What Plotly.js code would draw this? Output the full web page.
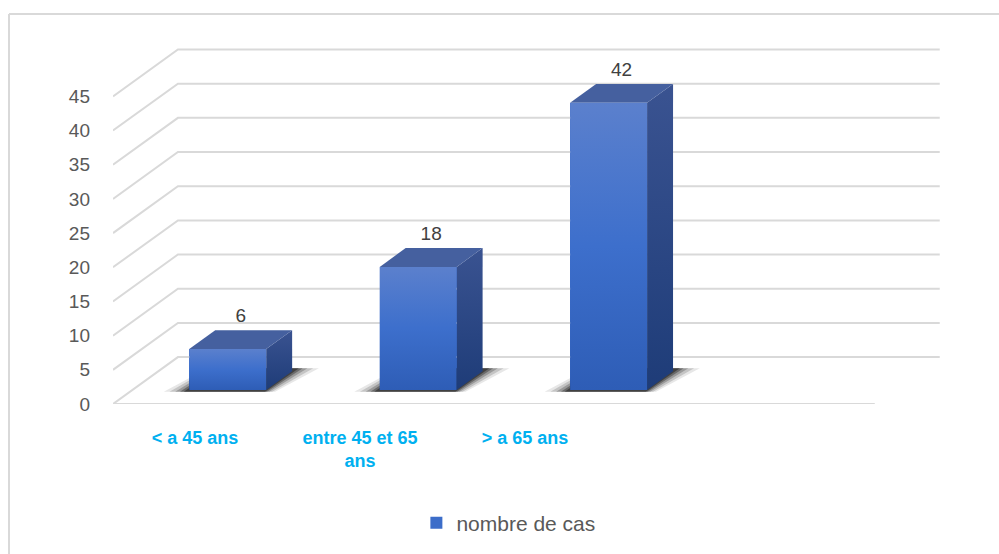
<!DOCTYPE html>
<html>
<head>
<meta charset="utf-8">
<script src="https://cdn.plot.ly/plotly-3.0.1.min.js"></script>
<style>html,body{margin:0;padding:0;background:#fff;}#chart{width:999px;height:554px;}</style>
</head>
<body>
<div id="chart"></div>
<script>
// ---- data ----
const categories = ["< a 45 ans", "entre 45 et 65<br>ans", "> a 65 ans"];
const values = [6, 18, 42];
const seriesName = "nombre de cas";
const yTicks = [0, 5, 10, 15, 20, 25, 30, 35, 40, 45];

// ---- 3D projection settings (in axis units) ----
const nSlots = 4;          // category slots on the floor
const DDX = 0.341;         // depth offset along x (slots)
const DDY = 6.86;          // depth offset along y (value units)
const HALFW = 0.202;       // half bar width (slots)
const F0 = 0.3, F1 = 0.7;  // bar front/back depth fractions
const P = (x, v, d) => [x + d * DDX, v + d * DDY];

const traces = [];

// grid: slanted side lines + back wall lines + front floor edge
let gx = [], gy = [];
yTicks.forEach(v => {
  const a = P(0, v, 0), b = P(0, v, 1), c = P(nSlots, v, 1);
  gx.push(a[0], b[0], c[0], null); gy.push(a[1], b[1], c[1], null);
});
{ const a = P(0, 0, 0), b = P(nSlots, 0, 0); gx.push(a[0], b[0], null); gy.push(a[1], b[1], null); }
traces.push({type:'scatter', mode:'lines', x:gx, y:gy, line:{color:'#d9d9d9', width:2},
  hoverinfo:'skip', showlegend:false, cliponaxis:false});

// shadows (layered soft)
const shadowLayers = [[0.12, 0.10], [0.09, 0.16], [0.06, 0.24], [0.035, 0.34], [0.015, 0.45]];
values.forEach((v, i) => {
  const c = i + 0.5;
  shadowLayers.forEach(([e, op]) => {
    const pts = [P(c - HALFW - e, 0, F0 - 0.04), P(c + HALFW + e * 0.5, 0, F0 - 0.04),
                 P(c + HALFW + e, 0, F1 + 0.06), P(c - HALFW - e * 0.5, 0, F1 + 0.06)];
    traces.push({type:'scatter', mode:'lines', fill:'toself',
      x: pts.map(p => p[0]).concat([pts[0][0]]), y: pts.map(p => p[1]).concat([pts[0][1]]),
      line:{width:0, color:'rgba(0,0,0,0)'}, fillcolor:'rgba(15,15,15,' + op + ')',
      hoverinfo:'skip', showlegend:false});
  });
});

// front faces as real bars (legend item)
traces.push({type:'bar', name:seriesName,
  x: values.map((v, i) => i + 0.5 + F0 * DDX), y: values, base: values.map(() => F0 * DDY),
  width: 2 * HALFW, marker:{color:'#3c6dc9', line:{width:0}}, hoverinfo:'skip', showlegend:true});

values.forEach((v, i) => {
  const c = i + 0.5;
  // side face
  const s = [P(c + HALFW, 0, F0), P(c + HALFW, 0, F1), P(c + HALFW, v, F1), P(c + HALFW, v, F0)];
  traces.push({type:'scatter', mode:'lines', fill:'toself',
    x: s.map(p => p[0]).concat([s[0][0]]), y: s.map(p => p[1]).concat([s[0][1]]),
    line:{width:0, color:'rgba(0,0,0,0)'}, fillcolor:'#2a4a8a',
    fillgradient:{type:'vertical', colorscale:[[0,'#1e3c78'],[1,'#3a5391']]},
    hoverinfo:'skip', showlegend:false});
  // top face
  const t = [P(c - HALFW, v, F0), P(c + HALFW, v, F0), P(c + HALFW, v, F1), P(c - HALFW, v, F1)];
  traces.push({type:'scatter', mode:'lines', fill:'toself',
    x: t.map(p => p[0]).concat([t[0][0]]), y: t.map(p => p[1]).concat([t[0][1]]),
    line:{width:0, color:'rgba(0,0,0,0)'}, fillcolor:'#45609f',
    hoverinfo:'skip', showlegend:false});
  // front face gradient overlay
  const f = [P(c - HALFW, 0, F0), P(c + HALFW, 0, F0), P(c + HALFW, v, F0), P(c - HALFW, v, F0)];
  traces.push({type:'scatter', mode:'lines', fill:'toself',
    x: f.map(p => p[0]).concat([f[0][0]]), y: f.map(p => p[1]).concat([f[0][1]]),
    line:{width:0, color:'rgba(0,0,0,0)'}, fillcolor:'#3c6dc9',
    fillgradient:{type:'vertical', colorscale:[[0,'#2e5db6'],[0.5,'#3d6fcc'],[1,'#5b80cd']]},
    hoverinfo:'skip', showlegend:false});
});

// value labels
traces.push({type:'scatter', mode:'text',
  x: values.map((v, i) => P(i + 0.5, v, 0.5)[0]), y: values.map(v => P(0, v, 0.78)[1]),
  text: values.map(String), textposition:'top center',
  textfont:{family:'Liberation Sans, Arial, sans-serif', size:19, color:'#404040'},
  hoverinfo:'skip', showlegend:false, cliponaxis:false});

// category label carrier on xaxis2
traces.push({type:'scatter', mode:'markers', xaxis:'x2', yaxis:'y',
  x: categories.map((c, i) => i), y: categories.map(() => null),
  hoverinfo:'skip', showlegend:false});

const layout = {
  width: 999, height: 554,
  margin: {l:113, r:29, t:28, b:149},
  paper_bgcolor:'#ffffff', plot_bgcolor:'rgba(0,0,0,0)',
  showlegend: true,
  legend: {orientation:'h', x:0.354, xanchor:'left', y:-0.313, yanchor:'middle',
    font:{family:'Liberation Sans, Arial, sans-serif', size:21, color:'#595959'},
    traceorder:'normal'},
  xaxis: {range:[0, 4.5], showgrid:false, zeroline:false, showline:false, showticklabels:false, ticks:'', fixedrange:true},
  xaxis2: {overlaying:'x', anchor:'y', side:'bottom', range:[-0.497, 4.697],
    tickmode:'array', tickvals:[0, 1, 2], ticktext:categories,
    showgrid:false, zeroline:false, showline:false, ticks:'', ticklabelstandoff:21,
    tickfont:{family:'Liberation Sans, Arial, sans-serif', size:18, color:'#00b0f0', weight:'bold'}},
  yaxis: {range:[0, 55], tickmode:'array', tickvals:yTicks, ticktext:yTicks.map(String),
    showgrid:false, zeroline:false, showline:false, ticks:'', ticklabelstandoff:22,
    tickfont:{family:'Liberation Sans, Arial, sans-serif', size:19, color:'#595959'}},
  bargap:0,
  shapes: [
    {type:'line', xref:'paper', yref:'paper', x0:(9-113)/857, x1:(1000-113)/857, y0:(405-14)/377, y1:(405-14)/377, line:{color:'#d9d9d9', width:2}},
    {type:'line', xref:'paper', yref:'paper', x0:(9-113)/857, x1:(9-113)/857, y0:(405-14)/377, y1:(405-560)/377, line:{color:'#d9d9d9', width:2}}
  ]
};

Plotly.newPlot('chart', traces, layout, {staticPlot:true, displayModeBar:false});
</script>
</body>
</html>
